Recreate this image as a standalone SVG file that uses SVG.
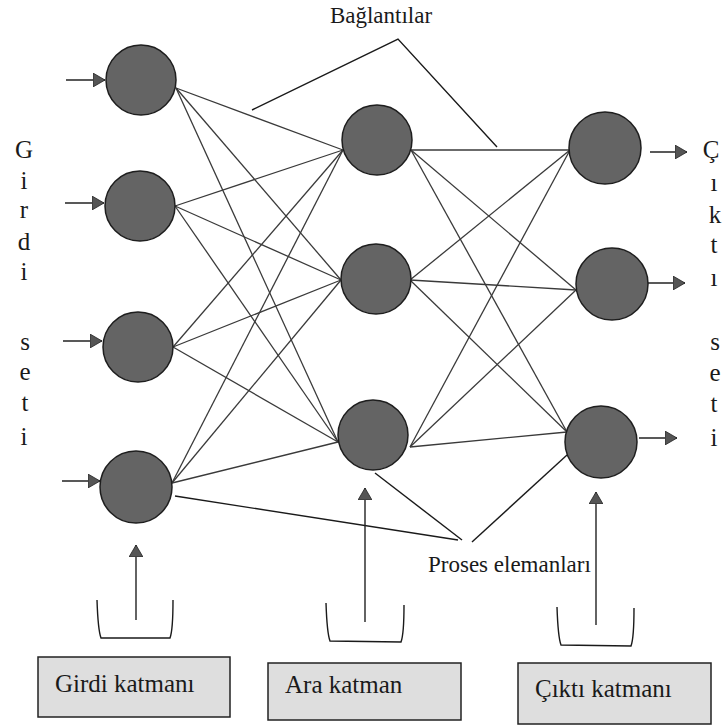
<svg xmlns="http://www.w3.org/2000/svg" width="722" height="726" viewBox="0 0 722 726">
<style>
.node{fill:#646464;stroke:#1e1e1e;stroke-width:1.5}
.conn line{stroke:#3a3a3a;stroke-width:1.3}
.ptr{fill:none;stroke:#1a1a1a;stroke-width:1.4}
.t{font-family:"Liberation Serif","Times New Roman",serif;fill:#1a1a1a}
.col{font-size:25px;text-anchor:middle}
.box{fill:#dedede;stroke:#222;stroke-width:1.5}
.arr{stroke:#222;stroke-width:1.4}
</style>
<defs>
<marker id="ah" viewBox="0 0 12 14" refX="12" refY="7" markerWidth="12" markerHeight="14" markerUnits="userSpaceOnUse" orient="auto">
<path d="M0,0 L12,7 L0,14 Z" fill="#555" stroke="#222" stroke-width="0.8"/>
</marker>
</defs>
<rect width="722" height="726" fill="#fff"/>
<g id="connectors" class="conn">
<line x1="176" y1="88" x2="343" y2="150"/>
<line x1="176" y1="88" x2="341" y2="280"/>
<line x1="176" y1="88" x2="338" y2="442"/>
<line x1="175" y1="206" x2="343" y2="150"/>
<line x1="175" y1="206" x2="341" y2="280"/>
<line x1="175" y1="206" x2="338" y2="442"/>
<line x1="173" y1="347" x2="343" y2="150"/>
<line x1="173" y1="347" x2="341" y2="280"/>
<line x1="173" y1="347" x2="338" y2="442"/>
<line x1="172" y1="483" x2="343" y2="150"/>
<line x1="172" y1="483" x2="341" y2="280"/>
<line x1="172" y1="483" x2="338" y2="442"/>
<line x1="411" y1="150" x2="570" y2="150"/>
<line x1="411" y1="150" x2="576" y2="290"/>
<line x1="411" y1="150" x2="567" y2="432"/>
<line x1="410" y1="280" x2="570" y2="150"/>
<line x1="410" y1="280" x2="576" y2="290"/>
<line x1="410" y1="280" x2="567" y2="432"/>
<line x1="410" y1="447" x2="570" y2="150"/>
<line x1="410" y1="447" x2="576" y2="290"/>
<line x1="410" y1="447" x2="567" y2="432"/>
</g>
<g id="inputs">
<line class="arr" x1="66" y1="80" x2="105" y2="80" marker-end="url(#ah)"/>
<line class="arr" x1="65" y1="203" x2="104" y2="203" marker-end="url(#ah)"/>
<line class="arr" x1="63" y1="341" x2="102" y2="341" marker-end="url(#ah)"/>
<line class="arr" x1="62" y1="481" x2="100" y2="481" marker-end="url(#ah)"/>
</g>
<g id="outputs">
<line class="arr" x1="650" y1="152" x2="687" y2="152" marker-end="url(#ah)"/>
<line class="arr" x1="648" y1="283" x2="685" y2="283" marker-end="url(#ah)"/>
<line class="arr" x1="639" y1="438" x2="677" y2="438" marker-end="url(#ah)"/>
</g>
<g id="in1"><circle class="node" cx="141" cy="80" r="35"/></g>
<g id="in2"><circle class="node" cx="140" cy="206" r="35"/></g>
<g id="in3"><circle class="node" cx="138" cy="347" r="35"/></g>
<g id="in4"><circle class="node" cx="136" cy="487" r="36"/></g>
<g id="h1"><circle class="node" cx="377" cy="140" r="35"/></g>
<g id="h2"><circle class="node" cx="376" cy="279" r="35"/></g>
<g id="h3"><circle class="node" cx="373" cy="435" r="35"/></g>
<g id="o1"><circle class="node" cx="605" cy="148" r="36"/></g>
<g id="o2"><circle class="node" cx="612" cy="284" r="36"/></g>
<g id="o3"><circle class="node" cx="601" cy="442" r="36"/></g>
<g id="label-baglantilar">
<text class="t" x="381" y="23" font-size="23" text-anchor="middle">Bağlantılar</text>
<polyline class="ptr" points="252,110 398,39 497,147"/>
</g>
<g id="label-proses">
<text class="t" x="428" y="572" font-size="23">Proses elemanları</text>
<line class="ptr" x1="175" y1="496" x2="458" y2="540"/>
<line class="ptr" x1="375" y1="473" x2="462" y2="540"/>
<line class="ptr" x1="567" y1="455" x2="472" y2="542"/>
</g>
<g id="girdi-seti" class="t col">
<text x="24" y="158">G</text>
<text x="24" y="189">i</text>
<text x="24" y="218">r</text>
<text x="24" y="250">d</text>
<text x="24" y="280">i</text>
<text x="25" y="350">s</text>
<text x="25" y="380">e</text>
<text x="25" y="411">t</text>
<text x="24" y="445">i</text>
</g>
<g id="cikti-seti" class="t col">
<text x="711" y="158">Ç</text>
<text x="714" y="191">ı</text>
<text x="715" y="223">k</text>
<text x="714" y="253">t</text>
<text x="714" y="286">ı</text>
<text x="715" y="350">s</text>
<text x="715" y="381">e</text>
<text x="714" y="412">t</text>
<text x="714" y="446">i</text>
</g>
<g id="layer-input">
<line class="arr" x1="136" y1="620" x2="136" y2="545" marker-end="url(#ah)"/>
<path class="ptr" d="M97,600 Q98,630 101,638 L170,638 Q173,630 173,600"/>
<rect class="box" x="38" y="657" width="192" height="60"/>
<text class="t" x="55" y="692" font-size="25">Girdi katmanı</text>
</g>
<g id="layer-hidden">
<line class="arr" x1="365" y1="622" x2="365" y2="488" marker-end="url(#ah)"/>
<path class="ptr" d="M326,603 Q327,633 330,641 L401,642 Q404,634 404,605"/>
<rect class="box" x="268" y="663" width="193" height="57"/>
<text class="t" x="285" y="693" font-size="25">Ara katman</text>
</g>
<g id="layer-output">
<line class="arr" x1="596" y1="625" x2="596" y2="492" marker-end="url(#ah)"/>
<path class="ptr" d="M557,607 Q558,637 561,645 L631,646 Q634,638 634,608"/>
<rect class="box" x="518" y="663" width="193" height="61"/>
<text class="t" x="535" y="697" font-size="25">Çıktı katmanı</text>
</g>
</svg>
